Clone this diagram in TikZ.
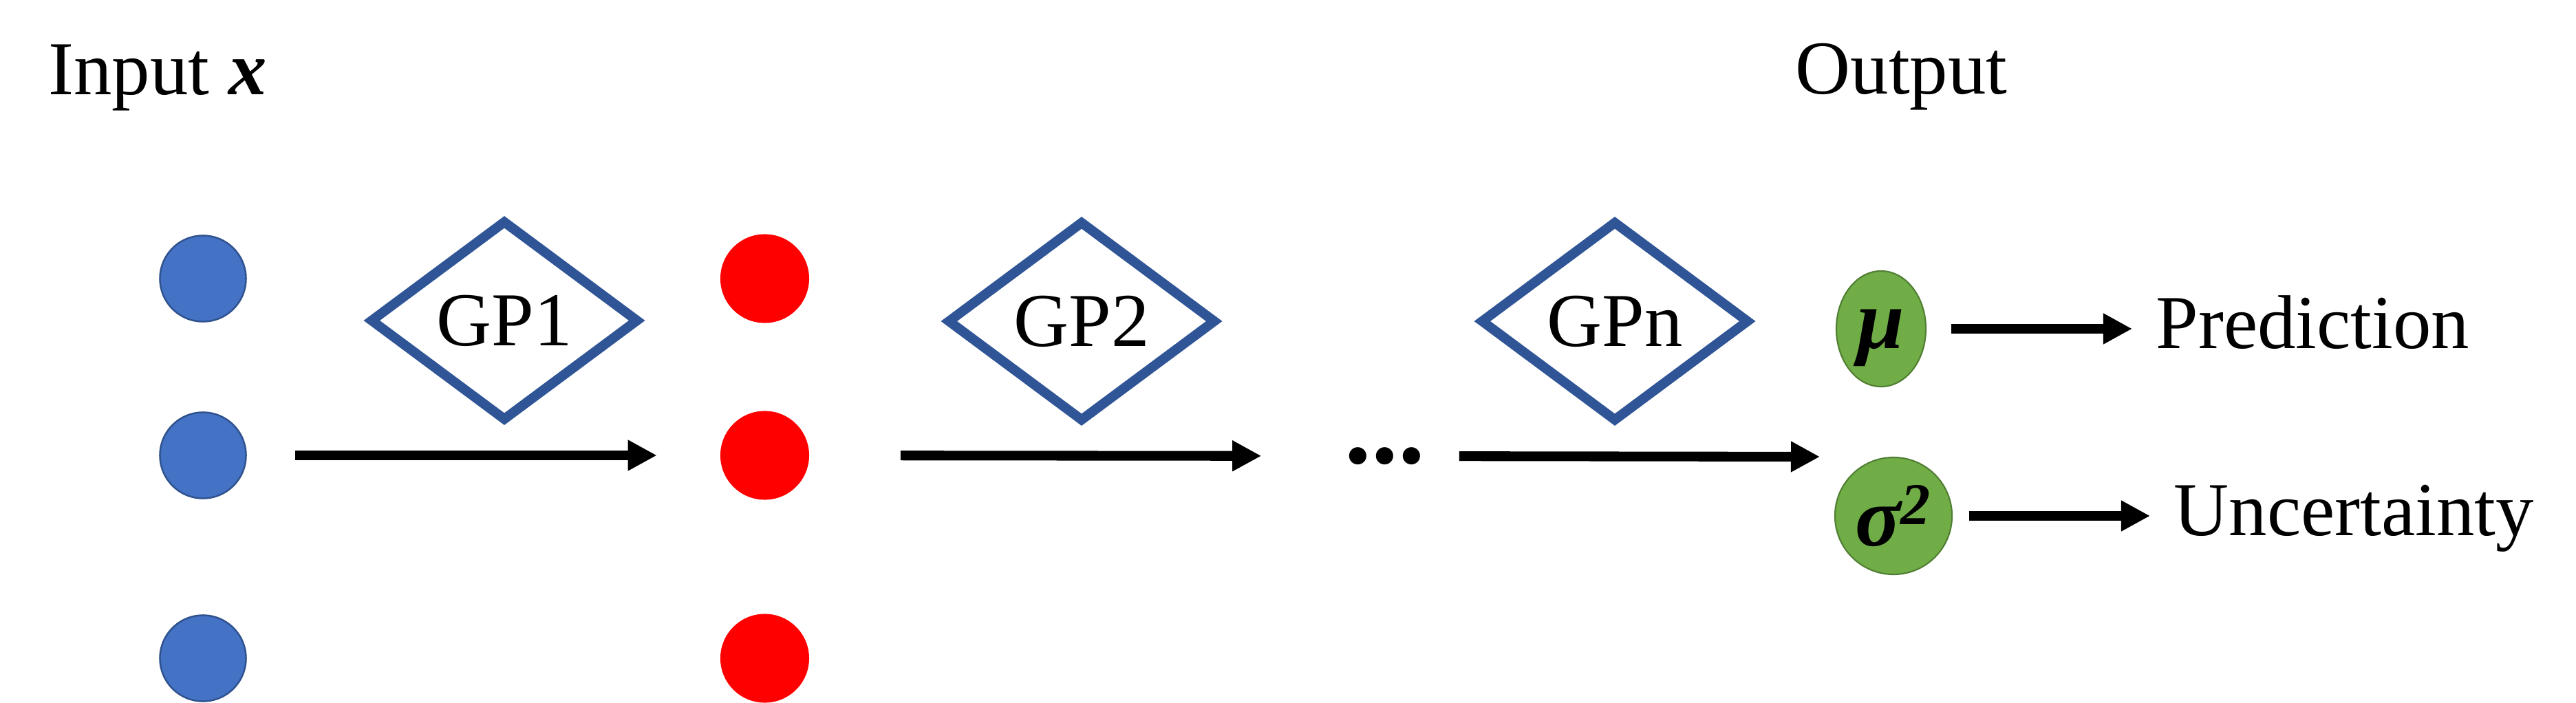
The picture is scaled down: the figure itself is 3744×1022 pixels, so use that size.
\documentclass[tikz,border=0pt]{standalone}
\usepackage{fontspec}
\setmainfont{Liberation Serif}
\usetikzlibrary{arrows.meta,positioning,shapes.geometric}
\definecolor{dotblue}{HTML}{4472C4}
\definecolor{dotblueline}{HTML}{2F528F}
\definecolor{gpline}{HTML}{2F5597}
\definecolor{outgreen}{HTML}{70AD47}
\definecolor{outgreenline}{HTML}{507E32}
\newcommand{\bigtext}{\fontsize{31.5}{38}\selectfont}

\begin{document}
\begin{tikzpicture}[x=0.01cm, y=-0.01cm, node distance= 8.16cm]
      \useasboundingbox (0,0) rectangle (3744,1022);
      \begin{scope}[every node/.style={font=\bigtext, inner sep=0pt, anchor=base west}]
        \node (IN) at (70,138) {Input \textbf{\textit{x}}};
        \node (OUT) at (2609,137) {Output};
        \node (PRED) at (3133,507) {Prediction};
        \node (UNC) at (3159,779) {Uncertainty};
      \end{scope}
      \begin{scope}[every node/.style={circle, minimum size=1.25cm, inner sep=0pt}]
        \node (B1)[fill=dotblue, draw=dotblueline, line width=0.7pt] at (295,405) {};
        \node (B2)[fill=dotblue, draw=dotblueline, line width=0.7pt] at (295,662) {};
        \node (B3)[fill=dotblue, draw=dotblueline, line width=0.7pt] at (295,957) {};
        \node (R1)[fill=red, minimum size=1.29cm] [right of= B1] {};
        \node (R2)[fill=red, minimum size=1.29cm] [right of= B2] {};
        \node (R3)[fill=red, minimum size=1.29cm] [right of= B3] {};
      \end{scope}
      \begin{scope}[every node/.style={diamond, draw=gpline, line width=4pt,
          minimum width=3.91cm, minimum height=2.92cm, inner sep=0pt, font=\bigtext}]
        \node (GP1) at (733,466) {GP1};
        \node (GP2) at (1572,467) {GP2};
        \node (GPN) at (2347,467) {GPn};
      \end{scope}
      \node (DOTS)[font=\fontsize{44}{50}\selectfont\bfseries, inner sep=0pt] at (2013,663) {...};
      \coordinate (END) at (2645,664);
      \begin{scope}[every node/.style={ellipse, fill=outgreen, draw=outgreenline,
          line width=0.6pt, inner sep=0pt, font=\fontsize{35}{40}\selectfont\bfseries\itshape}]
        \node (MU)[minimum width=1.3cm, minimum height=1.68cm, text depth=0pt] at (2734,478) {μ};
        \node (SIG)[minimum width=1.7cm, minimum height=1.7cm] at (2752,750) {σ\textsuperscript{2}};
      \end{scope}
      \begin{scope}
        [every edge/.style={draw= black, line width=4pt, -{Triangle[length=0.42cm, width=0.42cm]}}]
        \path (B2) edge[shorten <=0.7cm, shorten >=0.915cm] (R2);
        \path (R2) edge[shorten <=1.32cm, shorten >=1.21cm] (DOTS);
        \path (DOTS) edge[shorten <=0.49cm] (END);
        \path (MU) edge[shorten <=0.36cm, shorten >=0.34cm] (MU -| PRED.west);
        \path (SIG) edge[shorten <=0.24cm, shorten >=0.34cm] (SIG -| UNC.west);
      \end{scope}
    \end{tikzpicture}
\end{document}
